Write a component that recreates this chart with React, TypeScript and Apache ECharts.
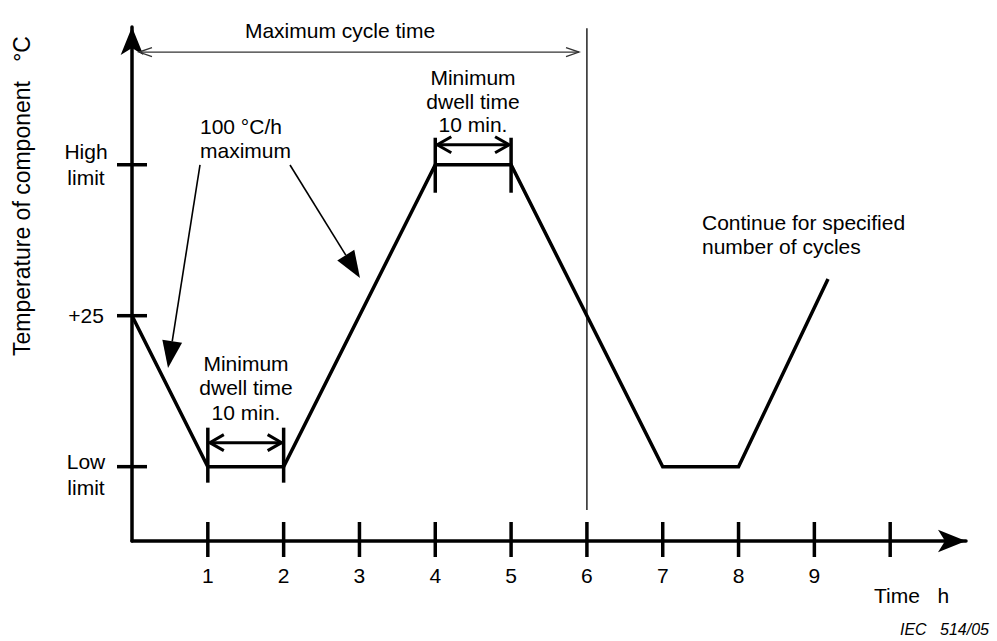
import React, { useEffect, useRef } from 'react';
import * as echarts from 'echarts';

const FONT = '"Liberation Sans", Arial, Helvetica, sans-serif';

// Temperature profile (time in h, temperature in arbitrary °C scale: low=-40, +25, high=90)
const profileTime = [0, 1, 2, 4, 5, 7, 8, 9.18];
const profileTemp = [25, -40, -40, 90, 90, -40, -40, 40.8];

// Axis ticks and labels
const xTickValues = [1, 2, 3, 4, 5, 6, 7, 8, 9, 10];
const xLabelValues = [1, 2, 3, 4, 5, 6, 7, 8, 9];
const yTickValues = [-40, 25, 90];
const yTickLabels = ['Low\nlimit', '+25', 'High\nlimit'];

// Dwell periods
const dwellStart = [1, 4];
const dwellEnd = [2, 5];
const dwellLevel = [-40, 90];

// "100 °C/h maximum" pointer arrows: [fromTime, fromTemp, toTime, toTemp]
const slopeArrows = [
  [0.897, 89.9, 0.475, 2.5],
  [2.084, 89.9, 3.007, 41.2],
];

// Maximum cycle time
const cycleArrow = [[0.092, 5.896, 138.5]];
const cycleMark = [[6, 148.8, -58.7]];

const X_MIN = 0;
const X_MAX = 11;
const Y_MIN = -72;
const Y_MAX = 149.3;

// style config (pixel offsets for dwell markers)
const dwellStyle = [
  { top: -39, bottom: 16, arrow: -24 },
  { top: -27, bottom: 28, arrow: -20 },
];

const BLACK = '#000';

function buildOption() {
  const labelMap: Record<string, string> = {};
  yTickValues.forEach((v, i) => {
    labelMap[String(v)] = yTickLabels[i];
  });

  return {
    animation: false,
    backgroundColor: '#fff',
    grid: { left: 132, right: 31, top: 27, bottom: 100, containLabel: false },
    xAxis: {
      type: 'value',
      min: X_MIN,
      max: X_MAX,
      axisLine: {
        show: true,
        onZero: false,
        symbol: ['none', 'arrow'],
        symbolSize: [17, 28],
        lineStyle: { color: BLACK, width: 3.5 },
      },
      axisTick: { show: false },
      splitLine: { show: false },
      axisLabel: {
        show: true,
        customValues: xLabelValues,
        margin: 24,
        color: BLACK,
        fontSize: 21,
        fontFamily: FONT,
        formatter: (v: number) => String(v),
      },
    },
    yAxis: {
      type: 'value',
      min: Y_MIN,
      max: Y_MAX,
      axisLine: {
        show: true,
        onZero: false,
        symbol: ['none', 'arrow'],
        symbolSize: [17, 28],
        lineStyle: { color: BLACK, width: 3.5 },
      },
      axisTick: { show: false },
      splitLine: { show: false },
      axisLabel: {
        show: true,
        customValues: yTickValues,
        margin: 46,
        align: 'center',
        color: BLACK,
        fontSize: 21,
        fontFamily: FONT,
        formatter: (v: number) => {
          const lines = (labelMap[String(v)] || '').split('\n').map((s) => '{n|' + s + '}');
          if (v === -40) lines.unshift('{s| }');
          return lines.join('\n');
        },
        rich: {
          n: { fontSize: 21, fontFamily: FONT, color: BLACK, lineHeight: 26 },
          s: { fontSize: 10, fontFamily: FONT, color: BLACK, lineHeight: 16 },
        },
      },
    },
    series: [
      {
        type: 'line',
        data: profileTime.map((t, i) => [t, profileTemp[i]]),
        symbol: 'none',
        lineStyle: { color: BLACK, width: 3.5, join: 'miter' },
        z: 5,
      },
      // x ticks crossing the axis
      {
        type: 'custom',
        data: xTickValues.map((v) => [v, Y_MIN]),
        renderItem: (params: any, api: any) => {
          const p = api.coord([api.value(0), Y_MIN]);
          return {
            type: 'line',
            shape: { x1: p[0], y1: p[1] - 19, x2: p[0], y2: p[1] + 16 },
            style: { stroke: BLACK, lineWidth: 3.5 },
          };
        },
        z: 6,
      },
      // y ticks crossing the axis
      {
        type: 'custom',
        data: yTickValues.map((v) => [X_MIN, v]),
        renderItem: (params: any, api: any) => {
          const p = api.coord([X_MIN, api.value(1)]);
          return {
            type: 'line',
            shape: { x1: p[0] - 15, y1: p[1], x2: p[0] + 15, y2: p[1] },
            style: { stroke: BLACK, lineWidth: 3.5 },
          };
        },
        z: 6,
      },
      // dwell markers and double arrows
      {
        type: 'custom',
        data: dwellStart.map((s, i) => [s, dwellLevel[i], dwellEnd[i]]),
        renderItem: (params: any, api: any) => {
          const st = dwellStyle[params.dataIndex];
          const a = api.coord([api.value(0), api.value(1)]);
          const b = api.coord([api.value(2), api.value(1)]);
          const y = a[1];
          const ya = y + st.arrow;
          const lw = 3;
          const x1 = a[0] + 2;
          const x2 = b[0] - 2;
          return {
            type: 'group',
            children: [
              { type: 'line', shape: { x1: a[0], y1: y + st.top, x2: a[0], y2: y + st.bottom }, style: { stroke: BLACK, lineWidth: 3.5 } },
              { type: 'line', shape: { x1: b[0], y1: y + st.top, x2: b[0], y2: y + st.bottom }, style: { stroke: BLACK, lineWidth: 3.5 } },
              { type: 'line', shape: { x1: x1, y1: ya, x2: x2, y2: ya }, style: { stroke: BLACK, lineWidth: lw } },
              { type: 'polyline', shape: { points: [[x1 + 14, ya - 8], [x1, ya], [x1 + 14, ya + 8]] }, style: { stroke: BLACK, lineWidth: lw, fill: 'none' } },
              { type: 'polyline', shape: { points: [[x2 - 14, ya - 8], [x2, ya], [x2 - 14, ya + 8]] }, style: { stroke: BLACK, lineWidth: lw, fill: 'none' } },
            ],
          };
        },
        z: 6,
      },
      // "100 °C/h maximum" pointer arrows
      {
        type: 'custom',
        data: slopeArrows,
        renderItem: (params: any, api: any) => {
          const s = api.coord([api.value(0), api.value(1)]);
          const t = api.coord([api.value(2), api.value(3)]);
          const dx = t[0] - s[0];
          const dy = t[1] - s[1];
          const len = Math.sqrt(dx * dx + dy * dy);
          const ux = dx / len;
          const uy = dy / len;
          const hl = 27;
          const hw = 10;
          const bx = t[0] - ux * hl;
          const by = t[1] - uy * hl;
          return {
            type: 'group',
            children: [
              { type: 'line', shape: { x1: s[0], y1: s[1], x2: bx, y2: by }, style: { stroke: BLACK, lineWidth: 1.6 } },
              {
                type: 'polygon',
                shape: { points: [[t[0], t[1]], [bx - uy * hw, by + ux * hw], [bx + uy * hw, by - ux * hw]] },
                style: { fill: BLACK, stroke: 'none' },
              },
            ],
          };
        },
        z: 6,
      },
      // maximum cycle time arrow
      {
        type: 'custom',
        data: cycleArrow,
        renderItem: (params: any, api: any) => {
          const a = api.coord([api.value(0), api.value(2)]);
          const b = api.coord([api.value(1), api.value(2)]);
          const y = a[1];
          const col = '#333';
          return {
            type: 'group',
            children: [
              { type: 'line', shape: { x1: a[0], y1: y, x2: b[0], y2: y }, style: { stroke: col, lineWidth: 1.3 } },
              { type: 'polyline', shape: { points: [[a[0] + 13, y - 4.5], [a[0], y], [a[0] + 13, y + 4.5]] }, style: { stroke: col, lineWidth: 1.3, fill: 'none' } },
              { type: 'polyline', shape: { points: [[b[0] - 13, y - 4.5], [b[0], y], [b[0] - 13, y + 4.5]] }, style: { stroke: col, lineWidth: 1.3, fill: 'none' } },
            ],
          };
        },
        z: 6,
      },
      // vertical end-of-cycle line
      {
        type: 'custom',
        data: cycleMark,
        renderItem: (params: any, api: any) => {
          const a = api.coord([api.value(0), api.value(1)]);
          const b = api.coord([api.value(0), api.value(2)]);
          return {
            type: 'line',
            shape: { x1: a[0], y1: a[1], x2: b[0], y2: b[1] },
            style: { stroke: BLACK, lineWidth: 1.3 },
          };
        },
        z: 6,
      },
    ],
    graphic: [
      {
        type: 'text',
        x: 340,
        y: 30,
        style: { text: 'Maximum cycle time', font: `21px ${FONT}`, fill: BLACK, align: 'center', verticalAlign: 'middle' },
      },
      {
        type: 'text',
        x: 200,
        y: 114,
        style: { text: '100 °C/h\nmaximum', font: `21px ${FONT}`, fill: BLACK, align: 'left', verticalAlign: 'top', lineHeight: 24 },
      },
      {
        type: 'text',
        x: 473,
        y: 66,
        style: { text: 'Minimum\ndwell time\n10 min.', font: `21px ${FONT}`, fill: BLACK, align: 'center', verticalAlign: 'top', lineHeight: 23.5 },
      },
      {
        type: 'text',
        x: 246,
        y: 351,
        style: { text: 'Minimum\ndwell time\n10 min.', font: `21px ${FONT}`, fill: BLACK, align: 'center', verticalAlign: 'top', lineHeight: 24.5 },
      },
      {
        type: 'text',
        x: 702,
        y: 210,
        style: { text: 'Continue for specified\nnumber of cycles', font: `21px ${FONT}`, fill: BLACK, align: 'left', verticalAlign: 'top', lineHeight: 24 },
      },
      {
        type: 'text',
        x: 874,
        y: 595,
        style: { text: 'Time   h', font: `21px ${FONT}`, fill: BLACK, align: 'left', verticalAlign: 'middle' },
      },
      {
        type: 'text',
        x: 900,
        y: 629,
        style: { text: 'IEC   514/05', font: `italic 16px ${FONT}`, fill: BLACK, align: 'left', verticalAlign: 'middle' },
      },
      {
        type: 'text',
        x: 22,
        y: 196,
        rotation: Math.PI / 2,
        style: { text: 'Temperature of component   °C', font: `23px ${FONT}`, fill: BLACK, align: 'center', verticalAlign: 'middle' },
      },
    ],
  };
}

export default function App() {
  const ref = useRef<HTMLDivElement>(null);
  useEffect(() => {
    document.body.style.margin = '0';
    const chart = echarts.init(ref.current as HTMLDivElement, null, { renderer: 'svg' });
    chart.setOption(buildOption() as any);
    return () => {
      chart.dispose();
    };
  }, []);
  return <div ref={ref} style={{ width: 997, height: 641, background: '#fff' }} />;
}
